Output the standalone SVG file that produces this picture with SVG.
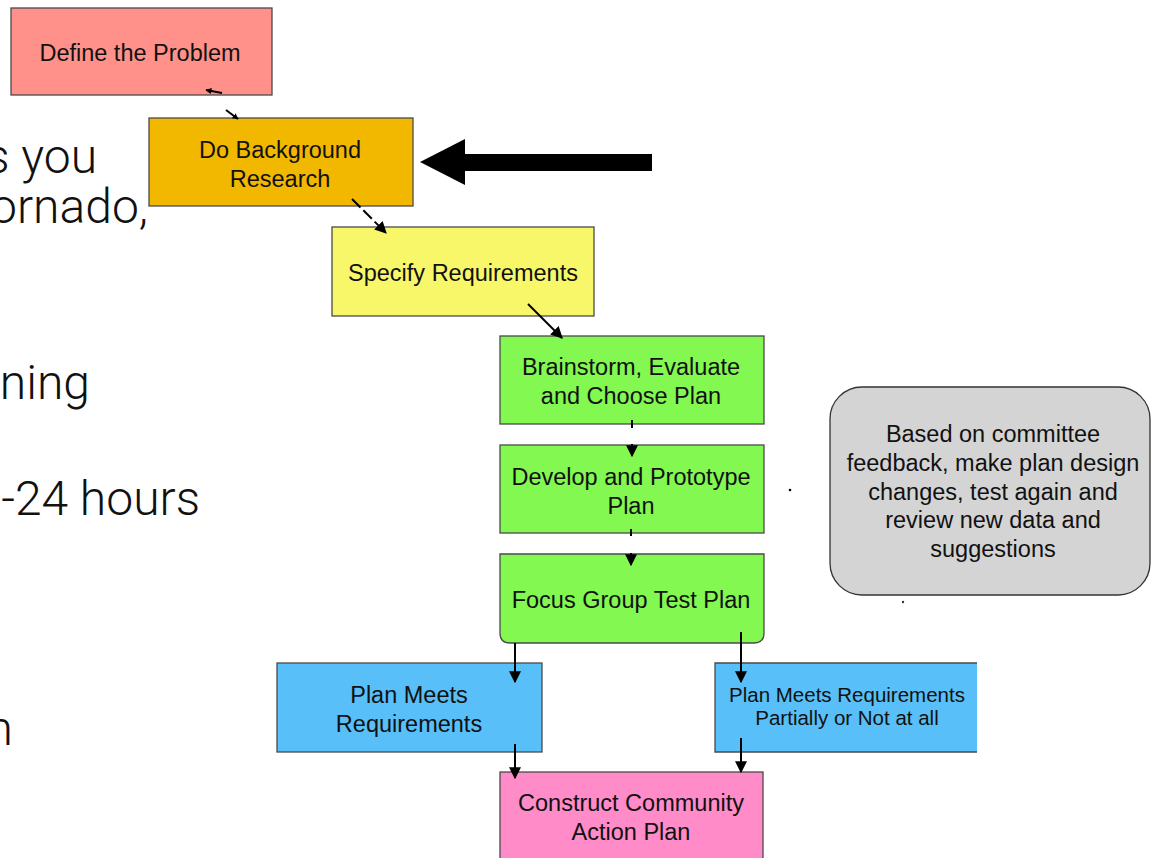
<svg xmlns="http://www.w3.org/2000/svg" width="1160" height="858" viewBox="0 0 1160 858">
<defs>
<style>
.bg{font-family:"Helvetica Neue",Roboto,"Liberation Sans",sans-serif;font-weight:300;font-size:48px;fill:#111}
.box{stroke:#4a4a4a;stroke-width:1.3}
.t{font-family:"Liberation Sans",Arial,sans-serif;font-size:23.5px;fill:#111;text-anchor:middle}
.ts{font-family:"Liberation Sans",Arial,sans-serif;font-size:20.5px;fill:#111;text-anchor:middle}
.tg{font-family:"Liberation Sans",Arial,sans-serif;font-size:23.5px;fill:#111;text-anchor:middle}
.c{stroke:#000;stroke-width:2;fill:none}
</style>
<marker id="ah" viewBox="0 0 10 10" refX="9" refY="5" markerWidth="6" markerHeight="6" orient="auto" markerUnits="userSpaceOnUse">
<path d="M0,0 L10,5 L0,10 Z" fill="#000"/>
</marker>
<marker id="ah2" viewBox="0 0 10 10" refX="9" refY="5" markerWidth="12" markerHeight="12" orient="auto" markerUnits="userSpaceOnUse">
<path d="M0,0 L10,5 L0,10 Z" fill="#000"/>
</marker>
</defs>
<rect width="1160" height="858" fill="#fff"/>
<g id="background-text">
<text class="bg" x="97" y="173" text-anchor="end">s you</text>
<text class="bg" x="148" y="223" text-anchor="end">ornado,</text>
<text class="bg" x="90" y="399" text-anchor="end">ning</text>
<text class="bg" x="200" y="515" text-anchor="end">-24 hours</text>
<text class="bg" x="13" y="745" text-anchor="end">n</text>
</g>
<g id="define-problem">
<rect class="box" x="11" y="8" width="261" height="87" fill="#FF918A"/>
<text class="t" x="140" y="61">Define the Problem</text>
</g>
<g id="background-research">
<rect class="box" x="149" y="118" width="264" height="88" fill="#F2B800"/>
<text class="t" x="280" y="158">Do Background</text>
<text class="t" x="280" y="187">Research</text>
</g>
<g id="specify-requirements">
<rect class="box" x="332" y="227" width="262" height="89" fill="#F8F76A"/>
<text class="t" x="463" y="281">Specify Requirements</text>
</g>
<g id="brainstorm">
<rect class="box" x="500" y="336" width="264" height="88" fill="#82F851"/>
<text class="t" x="631" y="375">Brainstorm, Evaluate</text>
<text class="t" x="631" y="404">and Choose Plan</text>
</g>
<g id="develop">
<rect class="box" x="500" y="445" width="264" height="88" fill="#82F851"/>
<text class="t" x="631" y="485">Develop and Prototype</text>
<text class="t" x="631" y="514">Plan</text>
</g>
<g id="focus-group">
<path class="box" d="M500,554 H764 V633 Q764,643 754,643 H510 Q500,643 500,633 Z" fill="#82F851"/>
<text class="t" x="631" y="608">Focus Group Test Plan</text>
</g>
<g id="committee-note">
<rect x="830" y="387" width="320" height="208" rx="32" ry="32" fill="#D4D4D4" stroke="#333" stroke-width="1.3"/>
<text class="tg" x="993" y="442">Based on committee</text>
<text class="tg" x="993" y="471">feedback, make plan design</text>
<text class="tg" x="993" y="500">changes, test again and</text>
<text class="tg" x="993" y="528">review new data and</text>
<text class="tg" x="993" y="557">suggestions</text>
</g>
<g id="plan-meets">
<rect class="box" x="277" y="663" width="265" height="89" fill="#58BFF8"/>
<text class="t" x="409" y="703">Plan Meets</text>
<text class="t" x="409" y="732">Requirements</text>
</g>
<g id="plan-partial">
<path class="box" d="M977,663 H715 V752 H977" fill="#58BFF8"/>
<text class="ts" x="847" y="702">Plan Meets Requirements</text>
<text class="ts" x="847" y="725">Partially or Not at all</text>
</g>
<g id="construct">
<rect class="box" x="500" y="772" width="263" height="90" fill="#FF8BC8"/>
<text class="t" x="631" y="811">Construct Community</text>
<text class="t" x="631" y="840">Action Plan</text>
</g>
<g id="connectors">
<line class="c" x1="222" y1="93" x2="206" y2="90" marker-end="url(#ah)"/>
<line class="c" x1="226" y1="110" x2="238" y2="119" marker-end="url(#ah)"/>
<line class="c" x1="352" y1="199" x2="386" y2="233" stroke-dasharray="12,4" marker-end="url(#ah2)"/>
<line class="c" x1="528" y1="304" x2="562" y2="338" marker-end="url(#ah2)"/>
<line class="c" x1="632" y1="420" x2="632" y2="428"/>
<line class="c" x1="632" y1="444" x2="632" y2="456" marker-end="url(#ah2)"/>
<line class="c" x1="631" y1="529" x2="631" y2="536"/>
<line class="c" x1="631" y1="553" x2="631" y2="565" marker-end="url(#ah2)"/>
<line class="c" x1="515" y1="643" x2="515" y2="682" marker-end="url(#ah2)"/>
<line class="c" x1="741" y1="632" x2="741" y2="682" marker-end="url(#ah2)"/>
<line class="c" x1="515" y1="744" x2="515" y2="778" marker-end="url(#ah2)"/>
<line class="c" x1="741" y1="738" x2="741" y2="772" marker-end="url(#ah2)"/>
<circle cx="790" cy="490" r="1.3" fill="#000"/>
<circle cx="903" cy="602" r="1.2" fill="#333"/>
</g>
<g id="pointer-arrow">
<polygon points="420,162 465,139 465,185" fill="#000"/>
<rect x="465" y="154" width="187" height="17" fill="#000"/>
</g>
</svg>
